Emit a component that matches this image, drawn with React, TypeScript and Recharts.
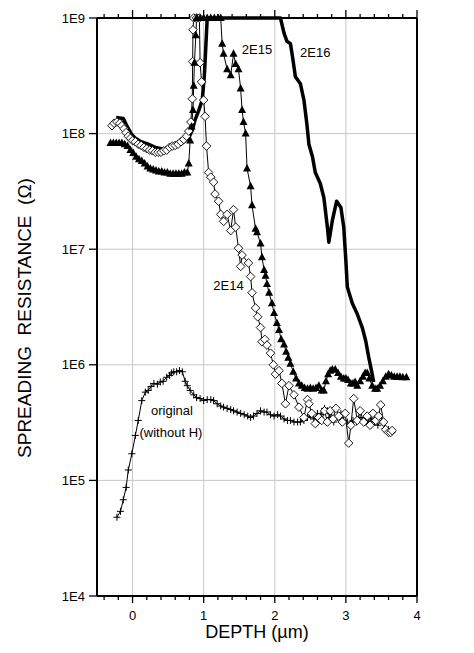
import React from "react";
import { LineChart, Line, XAxis, YAxis, ReferenceLine } from "recharts";

// depth in µm, spreading resistance in Ω
const depth2E16 = [-0.23, -0.13, -0.08, -0.02, 0.04, 0.12, 0.22, 0.32, 0.41, 0.5, 0.6, 0.68, 0.74, 0.8, 0.84, 0.88, 0.93, 0.98, 1.01, 1.03, 1.05, 2.08, 2.13, 2.17, 2.22, 2.25, 2.29, 2.36, 2.41, 2.45, 2.48, 2.53, 2.57, 2.64, 2.69, 2.74, 2.76, 2.81, 2.87, 2.93, 2.97, 3.0, 3.02, 3.09, 3.16, 3.23, 3.28, 3.32, 3.37, 3.39];
const res2E16 = [1.38e8, 1.35e8, 1.17e8, 1.0e8, 9.1e7, 8.5e7, 8.1e7, 7.6e7, 7.4e7, 7.4e7, 7.8e7, 8.1e7, 8.7e7, 9.5e7, 1.07e8, 1.32e8, 1.58e8, 1.95e8, 3.2e8, 5.6e8, 1e9, 1e9, 7.4e8, 6.3e8, 6.0e8, 4.6e8, 3.1e8, 2.7e8, 1.95e8, 1.23e8, 8.1e7, 6.3e7, 4.6e7, 3.7e7, 2.8e7, 1.55e7, 1.15e7, 1.78e7, 2.6e7, 2.3e7, 1.55e7, 7.9e6, 4.7e6, 3.4e6, 2.75e6, 2.1e6, 1.6e6, 1.17e6, 8.3e5, 7.1e5];

const depth2E15 = [-0.31, -0.27, -0.23, -0.19, -0.15, -0.11, -0.07, -0.03, 0.01, 0.05, 0.09, 0.13, 0.17, 0.21, 0.25, 0.29, 0.33, 0.37, 0.41, 0.45, 0.49, 0.53, 0.57, 0.61, 0.65, 0.69, 0.73, 0.77, 0.79, 0.81, 0.83, 0.85, 0.86, 0.87, 0.89, 0.9, 0.95, 1.0, 1.05, 1.1, 1.15, 1.2, 1.24, 1.26, 1.28, 1.33, 1.38, 1.42, 1.45, 1.49, 1.52, 1.54, 1.56, 1.59, 1.61, 1.66, 1.68, 1.73, 1.75, 1.8, 1.82, 1.85, 1.87, 1.89, 1.92, 1.96, 1.99, 2.03, 2.06, 2.09, 2.13, 2.16, 2.19, 2.22, 2.26, 2.3, 2.34, 2.38, 2.42, 2.46, 2.5, 2.54, 2.58, 2.62, 2.66, 2.69, 2.72, 2.75, 2.78, 2.81, 2.85, 2.89, 2.93, 2.97, 3.0, 3.03, 3.07, 3.1, 3.13, 3.16, 3.2, 3.24, 3.27, 3.3, 3.33, 3.37, 3.41, 3.44, 3.48, 3.52, 3.56, 3.6, 3.64, 3.68, 3.72, 3.76, 3.8, 3.85];
const res2E15 = [8.3e7, 8.3e7, 8.3e7, 8.3e7, 8.3e7, 8.1e7, 7.8e7, 7.2e7, 6.8e7, 6.3e7, 6.0e7, 5.8e7, 5.5e7, 5.2e7, 5.0e7, 4.9e7, 4.8e7, 4.7e7, 4.7e7, 4.6e7, 4.6e7, 4.5e7, 4.5e7, 4.5e7, 4.5e7, 4.5e7, 4.6e7, 4.6e7, 5.5e7, 8.7e7, 1.15e8, 1.6e8, 2.6e8, 4.1e8, 7.1e8, 1e9, 1e9, 1e9, 1e9, 1e9, 1e9, 1e9, 1e9, 6.0e8, 4.9e8, 3.6e8, 3.2e8, 4.9e8, 4.0e8, 3.6e8, 2.45e8, 1.6e8, 1.26e8, 1.0e8, 5.0e7, 3.5e7, 2.4e7, 1.5e7, 1.4e7, 1.12e7, 8.5e6, 6.6e6, 5.9e6, 5.0e6, 4.2e6, 3.4e6, 2.8e6, 2.3e6, 2.0e6, 1.66e6, 1.5e6, 1.3e6, 1.15e6, 1.02e6, 8.7e5, 7.6e5, 6.9e5, 6.6e5, 6.3e5, 6.2e5, 6.3e5, 6.2e5, 6.3e5, 6.6e5, 6.0e5, 6.0e5, 7.2e5, 8.3e5, 8.9e5, 9.1e5, 9.1e5, 8.5e5, 7.9e5, 7.6e5, 7.6e5, 7.4e5, 6.9e5, 6.9e5, 7.1e5, 6.6e5, 7.2e5, 7.9e5, 8.5e5, 8.5e5, 7.6e5, 6.6e5, 6.2e5, 6.2e5, 6.6e5, 7.2e5, 7.9e5, 8.3e5, 8.1e5, 7.9e5, 7.9e5, 7.9e5, 7.8e5, 7.8e5];

const depth2E14 = [-0.29, -0.26, -0.22, -0.18, -0.15, -0.12, -0.09, -0.06, -0.03, 0.0, 0.04, 0.08, 0.12, 0.16, 0.2, 0.24, 0.28, 0.32, 0.36, 0.4, 0.44, 0.48, 0.52, 0.56, 0.6, 0.64, 0.68, 0.72, 0.76, 0.79, 0.82, 0.84, 0.845, 0.85, 0.86, 0.9, 0.94, 0.95, 0.97, 1.0, 1.02, 1.04, 1.07, 1.1, 1.14, 1.16, 1.21, 1.24, 1.28, 1.33, 1.38, 1.42, 1.45, 1.49, 1.52, 1.54, 1.63, 1.66, 1.68, 1.73, 1.76, 1.8, 1.82, 1.86, 1.89, 1.94, 1.98, 2.01, 2.06, 2.1, 2.15, 2.2, 2.27, 2.34, 2.41, 2.46, 2.48, 2.52, 2.57, 2.62, 2.66, 2.7, 2.74, 2.78, 2.82, 2.86, 2.9, 2.95, 2.99, 3.04, 3.07, 3.11, 3.16, 3.2, 3.25, 3.3, 3.34, 3.38, 3.42, 3.46, 3.49, 3.53, 3.56, 3.6, 3.63, 3.65];
const res2E14 = [1.17e8, 1.23e8, 1.26e8, 1.23e8, 1.17e8, 1.1e8, 1.02e8, 9.5e7, 9.1e7, 8.7e7, 8.5e7, 8.1e7, 7.9e7, 7.6e7, 7.4e7, 7.2e7, 7.1e7, 6.9e7, 6.9e7, 6.9e7, 7.1e7, 7.2e7, 7.6e7, 7.8e7, 7.9e7, 8.1e7, 8.5e7, 8.9e7, 9.5e7, 1.05e8, 1.26e8, 2.0e8, 4.2e8, 7.9e8, 1e9, 1e9, 1e9, 4.1e8, 2.8e8, 1.95e8, 1.41e8, 7.8e7, 4.6e7, 4.2e7, 3.8e7, 3.0e7, 2.6e7, 2.0e7, 1.74e7, 2.0e7, 1.45e7, 2.2e7, 1.55e7, 1.02e7, 7.1e6, 8.9e6, 7.6e6, 5.8e6, 4.2e6, 3.1e6, 2.6e6, 2.1e6, 1.58e6, 1.66e6, 1.48e6, 1.26e6, 1.0e6, 8.3e5, 8.9e5, 6.9e5, 4.6e5, 6.6e5, 5.5e5, 4.3e5, 3.5e5, 5.0e5, 4.6e5, 3.8e5, 3.1e5, 3.5e5, 3.3e5, 4.0e5, 3.2e5, 4.0e5, 3.4e5, 4.2e5, 3.6e5, 3.2e5, 3.8e5, 2.1e5, 3.0e5, 5.1e5, 3.3e5, 4.0e5, 3.2e5, 3.6e5, 3.0e5, 3.8e5, 3.3e5, 3.6e5, 4.5e5, 3.2e5, 2.75e5, 2.6e5, 2.6e5, 2.7e5];

const depthOrig = [-0.22, -0.17, -0.13, -0.09, -0.06, -0.01, 0.04, 0.08, 0.13, 0.18, 0.22, 0.26, 0.3, 0.35, 0.39, 0.43, 0.48, 0.52, 0.55, 0.58, 0.62, 0.66, 0.7, 0.74, 0.77, 0.81, 0.86, 0.9, 0.95, 1.0, 1.05, 1.1, 1.14, 1.19, 1.24, 1.28, 1.33, 1.38, 1.42, 1.47, 1.52, 1.57, 1.62, 1.66, 1.7, 1.75, 1.8, 1.85, 1.89, 1.94, 1.99, 2.04, 2.08, 2.13, 2.18, 2.22, 2.27, 2.32, 2.36, 2.41, 2.46, 2.5, 2.55, 2.6, 2.65, 2.7, 2.74, 2.78, 2.83, 2.88, 2.93, 2.97, 3.02, 3.06, 3.1, 3.15, 3.2, 3.25, 3.3, 3.35, 3.4, 3.45, 3.5, 3.55, 3.6];
const resOrig = [4.8e4, 5.4e4, 6.8e4, 8.7e4, 1.23e5, 1.7e5, 2.45e5, 3.3e5, 4.9e5, 5.8e5, 6.0e5, 6.5e5, 6.9e5, 6.8e5, 7.1e5, 7.2e5, 7.8e5, 8.1e5, 8.5e5, 8.7e5, 8.7e5, 8.9e5, 8.7e5, 7.2e5, 6.6e5, 6.0e5, 5.5e5, 5.2e5, 5.1e5, 4.9e5, 5.0e5, 5.0e5, 4.9e5, 4.6e5, 4.4e5, 4.3e5, 4.2e5, 4.1e5, 4.0e5, 3.9e5, 3.8e5, 3.7e5, 3.6e5, 3.5e5, 3.6e5, 3.8e5, 4.0e5, 3.9e5, 3.9e5, 3.7e5, 3.6e5, 3.7e5, 3.6e5, 3.4e5, 3.3e5, 3.3e5, 3.2e5, 3.2e5, 3.2e5, 3.3e5, 3.5e5, 3.6e5, 3.4e5, 3.8e5, 3.7e5, 4.2e5, 4.0e5, 3.5e5, 3.2e5, 3.5e5, 3.8e5, 3.3e5, 3.2e5, 3.0e5, 3.3e5, 3.2e5, 3.5e5, 3.3e5, 3.2e5, 3.4e5, 3.2e5, 3.0e5, 3.3e5, 2.8e5, 2.75e5];

const depthTicks = [-0.4, -0.2, 0, 0.2, 0.4, 0.6, 0.8, 1, 1.2, 1.4, 1.6, 1.8, 2, 2.2, 2.4, 2.6, 2.8, 3, 3.2, 3.4, 3.6, 3.8, 4];
const depthGrid = [0, 1, 2, 3];
const resGrid = [1e5, 1e6, 1e7, 1e8];
const resTicks = [1e4, 1e5, 1e6, 1e7, 1e8, 1e9];
const resTickLabels = ["1E4", "1E5", "1E6", "1E7", "1E8", "1E9"];
const rhoTickPos = [8.7e8, 5.6e7, 1.08e7, 3.66e5, 9.7e4];
const rhoTickLabels = ["ρ (Ωcm)", "-- 100", "--", "-- 10", "--"];

const notes = [
  { text: "2E15", d: 1.75, r: 5.3e8 },
  { text: "2E16", d: 2.57, r: 5.0e8 },
  { text: "2E14", d: 1.35, r: 4.9e6 },
  { text: "original", d: 0.555, r: 4.0e5 },
  { text: "(without H)", d: 0.54, r: 2.6e5 },
];

// one table for the chart: each row carries one series value, the others stay empty
const rows = [
  ...depthOrig.map((d, i) => ({ d, orig: resOrig[i] })),
  ...depth2E14.map((d, i) => ({ d, e14: res2E14[i] })),
  ...depth2E15.map((d, i) => ({ d, e15: res2E15[i] })),
  ...depth2E16.map((d, i) => ({ d, e16: res2E16[i] })),
].sort((a, b) => a.d - b.d);

const FONT = "'Liberation Sans', Arial, sans-serif";

const triangleDot = (p: any) => {
  const { cx, cy, index, value } = p;
  if (cx == null || cy == null || value == null) return <g key={index} />;
  return <path key={index} d={`M${cx},${cy - 4.5}L${cx + 4},${cy + 3}L${cx - 4},${cy + 3}Z`} fill="#000" />;
};

const diamondDot = (p: any) => {
  const { cx, cy, index, value } = p;
  if (cx == null || cy == null || value == null) return <g key={index} />;
  return <path key={index} d={`M${cx},${cy - 4.3}L${cx + 4.3},${cy}L${cx},${cy + 4.3}L${cx - 4.3},${cy}Z`} fill="#fff" stroke="#000" strokeWidth={0.9} />;
};

const plusDot = (p: any) => {
  const { cx, cy, index, value } = p;
  if (cx == null || cy == null || value == null) return <g key={index} />;
  return <path key={index} d={`M${cx - 3.5},${cy}H${cx + 3.5}M${cx},${cy - 3.5}V${cy + 3.5}`} stroke="#000" strokeWidth={1} />;
};

const isMajor = (v: number) => Math.abs(v - Math.round(v)) < 1e-6;

const BottomTick = (p: any) => {
  const major = isMajor(p.payload.value);
  return (
    <g>
      <line x1={p.x} x2={p.x} y1={p.y} y2={p.y + (major ? 7 : 4)} stroke="#000" strokeWidth={1.3} />
      {major && (
        <text x={p.x} y={p.y + 24} textAnchor="middle" fontSize={13} fill="#000">
          {Math.round(p.payload.value)}
        </text>
      )}
    </g>
  );
};

const TopTick = (p: any) => {
  const major = isMajor(p.payload.value);
  return (
    <g>
      <line x1={p.x} x2={p.x} y1={p.y} y2={p.y - (major ? 8 : 4)} stroke="#000" strokeWidth={1.3} />
    </g>
  );
};

const RhoTick = (p: any) => (
  <text x={p.x} y={p.y} dy="0.355em" textAnchor="start" fontSize={13} fill="#000">
    {rhoTickLabels[p.index]}
  </text>
);

export default function App() {
  return (
    <div style={{ position: "relative", width: 466, height: 645, fontFamily: FONT }}>
      <LineChart width={466} height={645} data={rows} margin={{ top: 0, right: 0, bottom: 27, left: 39 }}>
        <XAxis
          type="number"
          dataKey="d"
          domain={[-0.5, 4]}
          ticks={depthTicks}
          interval={0}
          height={30}
          tickSize={0}
          tickMargin={0}
          tickLine={false}
          axisLine={{ stroke: "#000", strokeWidth: 2 }}
          tick={<BottomTick />}
        />
        <XAxis
          xAxisId="top"
          orientation="top"
          type="number"
          dataKey="d"
          domain={[-0.5, 4]}
          ticks={depthTicks}
          interval={0}
          height={10}
          tickSize={0}
          tickMargin={0}
          tickLine={false}
          axisLine={{ stroke: "#000", strokeWidth: 2 }}
          tick={<TopTick />}
        />
        <YAxis
          type="number"
          scale="log"
          domain={[1e4, 1e9]}
          ticks={resTicks}
          interval={0}
          width={50}
          tickSize={8}
          tickMargin={4}
          axisLine={{ stroke: "#000", strokeWidth: 2 }}
          tickLine={{ stroke: "#000", strokeWidth: 1.3 }}
          tick={{ fill: "#000", fontSize: 13 }}
          tickFormatter={(v: number) => resTickLabels[resTicks.indexOf(v)] ?? ""}
        />
        <YAxis
          yAxisId="rho"
          orientation="right"
          type="number"
          scale="log"
          domain={[1e4, 1e9]}
          ticks={rhoTickPos}
          interval={0}
          width={57}
          tickSize={0}
          tickMargin={3}
          tickLine={false}
          axisLine={{ stroke: "#000", strokeWidth: 2 }}
          tick={<RhoTick />}
        />

        {depthGrid.map((g) => (
          <ReferenceLine key={`vx${g}`} x={g} stroke="#c8c8c8" strokeWidth={1} />
        ))}
        {resGrid.map((g) => (
          <ReferenceLine key={`hy${g}`} y={g} stroke="#c8c8c8" strokeWidth={1} />
        ))}

        <Line dataKey="orig" stroke="#000" strokeWidth={1} connectNulls dot={plusDot} isAnimationActive={false} />
        <Line dataKey="e14" stroke="#000" strokeWidth={1} connectNulls dot={diamondDot} isAnimationActive={false} />
        <Line dataKey="e15" stroke="#000" strokeWidth={1} connectNulls dot={triangleDot} isAnimationActive={false} />
        <Line dataKey="e16" stroke="#000" strokeWidth={3.5} strokeLinejoin="round" connectNulls dot={false} isAnimationActive={false} />

        {notes.map((n) => (
          <ReferenceLine
            key={n.text}
            segment={[{ x: n.d, y: n.r }, { x: n.d, y: n.r }]}
            stroke="none"
            label={{ value: n.text, position: "center", fontSize: 13, fill: "#000" }}
          />
        ))}
      </LineChart>
      <div
        style={{
          position: "absolute",
          left: 17,
          top: 310,
          transform: "translate(-50%, -50%) rotate(-90deg)",
          fontSize: 19,
          whiteSpace: "pre",
          color: "#000",
        }}
      >
        {"SPREADING  RESISTANCE  (Ω)"}
      </div>
      <div
        style={{
          position: "absolute",
          left: 249,
          top: 631,
          transform: "translate(-50%, -80%)",
          fontSize: 18,
          whiteSpace: "pre",
          color: "#000",
        }}
      >
        DEPTH (µm)
      </div>
    </div>
  );
}
